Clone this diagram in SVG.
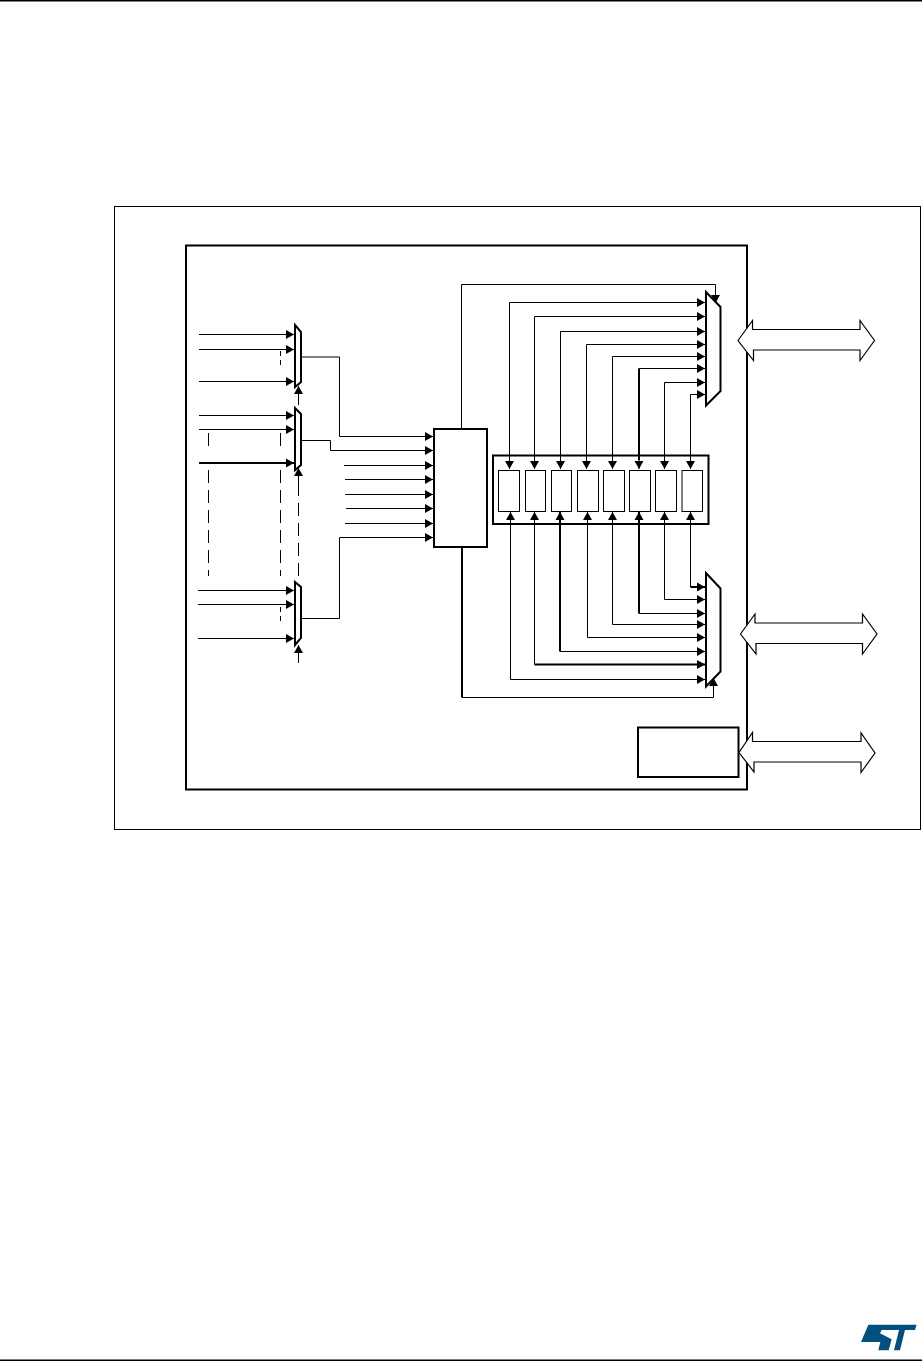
<svg xmlns="http://www.w3.org/2000/svg" width="922" height="1361" viewBox="0 0 922 1361">
<defs>
<marker id="ah" markerUnits="userSpaceOnUse" markerWidth="9" markerHeight="10" refX="8" refY="5" orient="auto"><path d="M0,0.5 L8,5 L0,9.5 Z" fill="#000"/></marker>
</defs>
<style>
.box{fill:#fff;stroke:#000;stroke-width:2}
.thin{fill:#fff;stroke:#000;stroke-width:1}
.mux{fill:#fff;stroke:#000;stroke-width:2;stroke-linejoin:miter}
.bus{fill:#fff;stroke:#000;stroke-width:1.2}
.w{fill:none;stroke:#000;stroke-width:1}
.a{marker-end:url(#ah)}
.t{stroke-width:2}
.d{stroke-dasharray:13 7}
</style>
<rect width="922" height="1361" fill="#fff"/>
<g id="page-rules"><rect x="0" y="0" width="922" height="1.5" fill="#000"/><rect x="0" y="1359.5" width="922" height="1.5" fill="#000"/></g>
<g id="frame"><rect x="114.5" y="206.5" width="806" height="623" fill="#fff" stroke="#000"/></g>
<g id="block"><rect class="box" x="186" y="245.5" width="561" height="544"/></g>
<g id="connectors">
<path class="w a" d="M199,334.5H294"/><path class="w a" d="M199,349.5H294"/><path class="w a" d="M199,381.5H294"/>
<path class="w a" d="M199,415.5H294"/><path class="w a" d="M199,429.5H294"/><path class="w t a" d="M199,463H294"/>
<path class="w a" d="M198,590.5H294"/><path class="w a" d="M198,604.5H294"/><path class="w a" d="M198,638.5H294"/>
<path class="w a" d="M298.5,405V386"/><path class="w a" d="M298.5,483V468"/><path class="w d" d="M298.5,483V582"/><path class="w a" d="M298.5,663V645"/>
<path class="w" stroke-dasharray="5 4" d="M280.5,351V366"/>
<path class="w d" d="M280.5,433V446M280.5,470V576"/><path class="w d" d="M208.5,433V446M208.5,470V576"/>
<path class="w" stroke-dasharray="5 4" d="M280.5,607V622"/>
<path class="w a" d="M302,357H339.5V436.5H433"/><path class="w a" d="M302,440.5H330.5V450.5H433"/>
<path class="w a" d="M344,465.5H433"/><path class="w a" d="M345,479.5H433"/><path class="w a" d="M345,494.5H433"/><path class="w a" d="M346,508.5H433"/><path class="w a" d="M345,523.5H433"/>
<path class="w a" d="M302,618.5H339.5V537.5H433"/>
<path class="w" d="M461.5,428V284.5H715.5V290"/><path class="w a" d="M715.5,288V303"/>
<path class="w a" d="M509.5,468V302.5H705"/><path class="w a" d="M534.5,468V316.5H705"/><path class="w a" d="M560.5,468V331.5H705"/><path class="w a" d="M586.5,468V344.5H705"/><path class="w a" d="M612.5,468V356.5H705"/>
<path class="w a" d="M639,368.5H705"/><path class="w t" d="M639,368.5V460"/>
<path class="w a" d="M664.5,468V382.5H705"/><path class="w a" d="M690.5,468V394.5H705"/>
<path class="w a" d="M509.5,458V469"/><path class="w a" d="M534.5,458V469"/><path class="w a" d="M560.5,458V469"/><path class="w a" d="M586.5,458V469"/><path class="w a" d="M612.5,458V469"/><path class="w a" d="M639,458V469"/><path class="w a" d="M664.5,458V469"/><path class="w a" d="M690.5,458V469"/>
<path class="w a" d="M510.5,679.5V512"/><path class="w a" d="M534.5,664.5V512"/><path class="w t a" d="M560,651.5V512"/><path class="w a" d="M587.5,637.5V512"/><path class="w a" d="M612.5,624.5V512"/><path class="w t a" d="M639,613.5V512"/><path class="w a" d="M664.5,599.5V512"/><path class="w a" d="M690.5,587V512"/>
<path class="w a" d="M510.5,679.5H705"/><path class="w t a" d="M534.5,664.5H705"/><path class="w a" d="M560,651.5H705"/><path class="w a" d="M587.5,637.5H705"/><path class="w a" d="M612.5,624.5H705"/><path class="w a" d="M639,613.5H705"/><path class="w a" d="M664.5,599.5H705"/><path class="w t a" d="M690.5,587H705"/>
<path class="w t" d="M462,547V697.5"/><path class="w a" d="M462,697.5H713.5V678"/>
</g>
<g id="mux1"><path class="mux" d="M295,325L301,332V382L295,387Z"/></g>
<g id="mux2"><path class="mux" d="M295,408L301,414V465L295,470Z"/></g>
<g id="mux3"><path class="mux" d="M295,582L301,587V638L295,645Z"/></g>
<g id="arbiter"><rect class="box" x="434" y="429" width="53" height="118"/></g>
<g id="streams">
<rect class="box" x="493" y="455.5" width="215.5" height="68.5" style="fill:none"/>
<rect class="thin" x="498.5" y="470.5" width="21" height="41"/><rect class="thin" x="525.5" y="470.5" width="20" height="41"/><rect class="thin" x="551.5" y="470.5" width="20" height="41"/><rect class="thin" x="577.5" y="470.5" width="21" height="41"/><rect class="thin" x="603.5" y="470.5" width="21" height="41"/><rect class="thin" x="629.5" y="470.5" width="21" height="41"/><rect class="thin" x="655.5" y="470.5" width="21" height="41"/><rect class="thin" x="682" y="470.5" width="20.5" height="41"/>
</g>
<g id="mem-mux"><path class="mux" d="M706,292L720.5,307V391L706,405.5Z"/></g>
<g id="per-mux"><path class="mux" d="M706,573L720.5,588.5V671.5L706,686.5Z"/></g>
<g id="ahb-slave"><rect class="box" x="638" y="727.5" width="100.5" height="49.5"/></g>
<g id="bus1"><path class="bus" d="M738,340.5L752.5,320.5V329.5H860V320.5L874.5,340.5L860,360.5V350H753.5V360.5Z"/></g>
<g id="bus2"><path class="bus" d="M740.5,634L755,614V623H862.5V614L877,634L862.5,654V643.5H756V654Z"/></g>
<g id="bus3"><path class="bus" d="M739,752.5L752.5,732.5V741.5H861V733L875,753L861,772.5V762H754V772Z"/></g>
<g id="logo"><path fill="#03507f" transform="translate(855 1320) scale(.3333)" d="M40,14H185L180,30H150L135,91H117L132,30H80L75,40L110,58L101,91H70L76,66H18Z"/></g>
</svg>
